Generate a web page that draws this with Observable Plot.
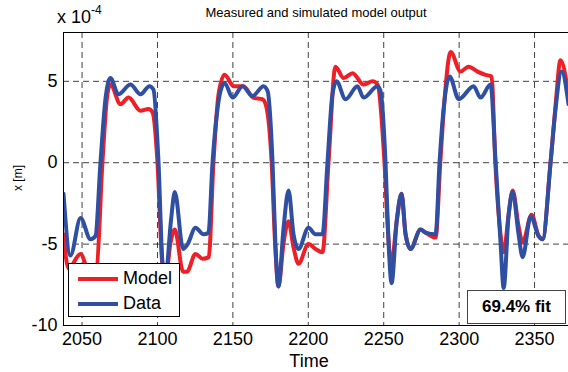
<!DOCTYPE html>
<html>
<head>
<meta charset="utf-8">
<script src="https://cdn.jsdelivr.net/npm/d3@7"></script>
<script src="https://cdn.jsdelivr.net/npm/@observablehq/plot@0.6"></script>
<style>
  html, body { margin: 0; padding: 0; background: #fff; }
  body { width: 568px; height: 372px; overflow: hidden; font-family: "Liberation Sans", Arial, sans-serif; }
  #wrap { position: relative; width: 568px; height: 372px; }
  .abs { position: absolute; white-space: nowrap; color: #000; }
</style>
</head>
<body>
<div id="wrap"></div>
<script>
// ---- data (x in units of 1e-4 m) ----
const title = "Measured and simulated model output";
const xLabel = "Time";
const yLabel = "x [m]";
const fitText = "69.4% fit";
const seriesNames = ["Model", "Data"];

const xTicks = [2050, 2100, 2150, 2200, 2250, 2300, 2350];
const yTicks = [-10, -5, 0, 5];

const dataTime = [2037.7, 2042.3, 2049, 2055.6, 2058.9, 2062.2, 2065.5, 2068.8, 2074.1, 2082.1, 2088.7, 2094.7, 2097.3,
  2100.7, 2103.3, 2105.3, 2109, 2111.5, 2117, 2120, 2125.2, 2130.5, 2133.8, 2136.5, 2139.8, 2141.8, 2144.5, 2149.8,
  2156.4, 2163, 2170.3, 2173, 2176.3, 2178.2, 2180.2, 2183.6, 2186.9, 2190.2, 2193.5, 2200.1, 2204.8, 2209.4, 2212.7,
  2216, 2218.7, 2224.7, 2232.6, 2236.6, 2245.9, 2247.9, 2251.2, 2253.2, 2255.2, 2258.6, 2261.8, 2264.5, 2267.8, 2274.4,
  2277.8, 2284.4, 2287, 2289.7, 2293.7, 2299.7, 2309.6, 2314.2, 2320.8, 2324.2, 2327.5, 2329.5, 2332.8, 2335.5, 2339.4,
  2342.1, 2347.4, 2352.7, 2355.3, 2360.6, 2363.9, 2367.9, 2372.5];
const dataX = [-1.9, -5.7, -3.4, -4.7, -4.5, 0, 3.9, 5.2, 4.2, 4.8, 4.2, 4.7, 4.5,
  0, -6.1, -7.0, -3.5, -1.8, -5.3, -5.0, -4.0, -4.4, -4.3, 0, 3.3, 4.4, 4.9, 4.0,
  4.7, 4.1, 4.7, 4.4, 0, -5.0, -7.6, -4.0, -1.7, -4.4, -5.3, -4.0, -4.4, -4.4, 0,
  4.2, 5.0, 3.9, 4.7, 4.0, 4.7, 4.4, 0, -4.9, -7.4, -3.6, -1.9, -4.4, -5.3, -4.1,
  -4.3, -4.4, 0, 3.3, 5.3, 3.9, 4.7, 4.0, 4.8, 0, -5.0, -7.7, -3.2, -1.8, -4.4,
  -5.8, -3.3, -4.5, -4.7, 0, 3.3, 5.6, 3.6];

const modelTime = [2037.7, 2041, 2049, 2055, 2059.5, 2063.5, 2066.8, 2068.8, 2075.5, 2080.8, 2088.7, 2094, 2096.7,
  2100, 2103, 2105, 2108.5, 2111.5, 2117, 2119.5, 2125.2, 2130, 2134, 2137.1, 2140.5, 2144.5, 2150.5, 2157, 2163.5,
  2169.5, 2172, 2175.7, 2178, 2180.2, 2183.5, 2186.9, 2190.2, 2193.5, 2200.1, 2204.8, 2209.4, 2213.4, 2218, 2223.4,
  2229.4, 2236.6, 2242.6, 2245.9, 2250.5, 2253, 2255, 2258.6, 2261.8, 2264.5, 2267.8, 2274.4, 2277.8, 2284.4, 2287.5,
  2290, 2294.4, 2300.9, 2306.2, 2312.2, 2317.5, 2321.5, 2324, 2327, 2329.5, 2332.8, 2335.5, 2339.4, 2342.1, 2348,
  2352.7, 2355.3, 2360.6, 2363.9, 2367.2, 2372.5];
const modelX = [-4.4, -6.5, -5.6, -6.8, -6.6, 0, 4.2, 4.8, 3.6, 4.0, 3.2, 3.3, 3.1,
  0, -6.0, -7.5, -5.0, -4.1, -6.7, -6.7, -5.6, -5.9, -5.8, 0, 4.2, 5.4, 4.7, 4.7, 4.0,
  3.9, 3.5, 0, -5.0, -7.6, -5.0, -3.6, -5.2, -6.2, -5.0, -5.3, -5.5, 0, 5.9, 5.2,
  5.5, 4.8, 5.0, 4.8, 0, -4.5, -6.3, -3.6, -1.9, -4.4, -5.3, -4.1, -4.3, -4.6, 0,
  3.5, 6.8, 5.6, 5.9, 5.6, 5.4, 5.3, 0, -4.0, -5.5, -3.2, -1.7, -3.9, -4.9, -3.2,
  -4.5, -4.7, 0, 3.5, 6.3, 4.2];

const modelColor = "#ee1f26";
const dataColor = "#2f4fa2";

const modelRows = modelTime.map((t, i) => ({t, v: modelX[i]}));
const dataRows = dataTime.map((t, i) => ({t, v: dataX[i]}));

const font = '"Liberation Sans", Arial, sans-serif';

const chart = Plot.plot({
  width: 568,
  height: 372,
  marginLeft: 63,
  marginTop: 32,
  marginRight: 0,
  marginBottom: 47,
  style: {fontFamily: font, fontSize: "18px", background: "transparent", overflow: "visible"},
  x: {domain: [2037.7, 2372.5]},
  y: {domain: [-10, 8]},
  marks: [
    Plot.gridX(xTicks, {stroke: "#000", strokeOpacity: 0.75, strokeDasharray: "6,4", strokeWidth: 1}),
    Plot.gridY(yTicks, {stroke: "#000", strokeOpacity: 0.75, strokeDasharray: "6,4", strokeWidth: 1}),
    Plot.line(modelRows, {x: "t", y: "v", stroke: modelColor, strokeWidth: 4, curve: "monotone-x", clip: true}),
    Plot.line(dataRows, {x: "t", y: "v", stroke: dataColor, strokeWidth: 4, curve: "monotone-x", clip: true}),
    Plot.axisX(xTicks, {tickSize: 0, tickPadding: 7, label: null, tickFormat: d => String(d), fontSize: 18}),
    Plot.axisY(yTicks, {tickSize: 0, tickPadding: 6, label: null, tickFormat: d => String(d), fontSize: 18}),
    Plot.frame({stroke: "#000", strokeWidth: 1})
  ]
});

const wrap = document.getElementById("wrap");
chart.style.position = "absolute";
chart.style.left = "0px";
chart.style.top = "0px";
wrap.appendChild(chart);

function addText(txt, left, top, css) {
  const d = document.createElement("div");
  d.className = "abs";
  d.textContent = txt;
  d.style.left = left + "px";
  d.style.top = top + "px";
  Object.assign(d.style, css || {});
  wrap.appendChild(d);
  return d;
}

// title
addText(title, 316, 5, {fontSize: "13px", transform: "translateX(-50%)", lineHeight: "15px"});
// exponent label "x 10^-4"
const ex = document.createElement("div");
ex.className = "abs";
ex.style.left = "57px";
ex.style.top = "6px";
ex.style.fontSize = "18px";
ex.style.lineHeight = "22px";
ex.innerHTML = 'x 10<span style="font-size:12px;position:relative;top:-9px;">-4</span>';
wrap.appendChild(ex);
// y label
addText(yLabel, 18, 178, {fontSize: "12px", lineHeight: "14px", transform: "translate(-50%,-50%) rotate(-90deg)"});
// x label
addText(xLabel, 309, 352, {fontSize: "18px", lineHeight: "18px", transform: "translateX(-50%)"});

// legend box
const leg = document.createElement("div");
leg.className = "abs";
Object.assign(leg.style, {left: "68px", top: "263px", width: "110px", height: "52px", background: "#fff", border: "1px solid #000"});
wrap.appendChild(leg);
const cols = [modelColor, dataColor];
seriesNames.forEach((n, i) => {
  const ln = document.createElement("div");
  Object.assign(ln.style, {position: "absolute", left: "9px", top: (13 + i * 25) + "px", width: "40px", height: "4px", background: cols[i]});
  leg.appendChild(ln);
  const tx = document.createElement("div");
  tx.textContent = n;
  Object.assign(tx.style, {position: "absolute", left: "54px", top: (3 + i * 25) + "px", fontSize: "18px", lineHeight: "22px"});
  leg.appendChild(tx);
});

// fit box
const fit = document.createElement("div");
fit.className = "abs";
Object.assign(fit.style, {left: "467px", top: "290px", width: "97px", height: "32px", background: "#fff", border: "1px solid #444", fontSize: "17px", fontWeight: "bold", lineHeight: "32px", textAlign: "center"});
fit.textContent = fitText;
wrap.appendChild(fit);
</script>
</body>
</html>
